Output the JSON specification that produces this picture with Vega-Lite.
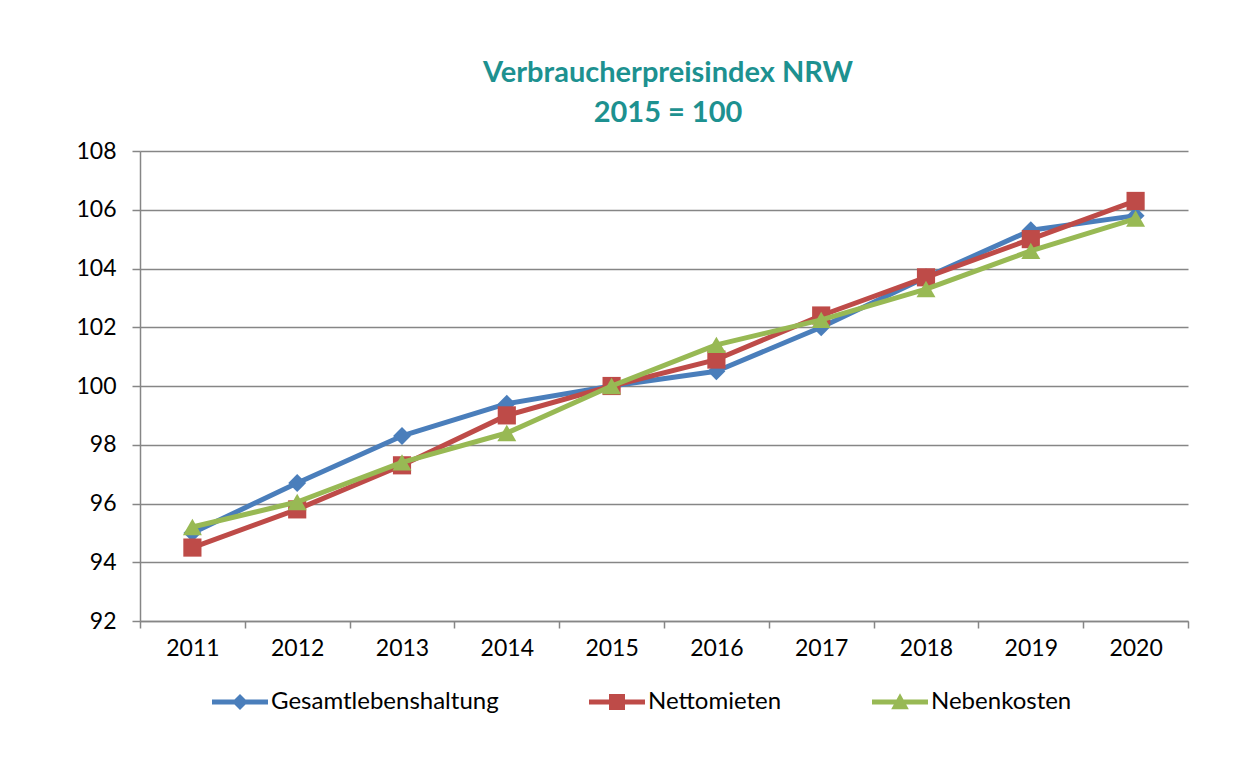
{
  "$schema": "https://vega.github.io/schema/vega-lite/v6.json",
  "width": 1048,
  "height": 470,
  "autosize": {"type": "none"},
  "padding": {"left": 140, "top": 151, "right": 69, "bottom": 150},
  "background": "white",
  "title": {
    "text": ["Verbraucherpreisindex NRW", "2015 = 100"],
    "font": "Lato",
    "fontSize": 29,
    "fontWeight": "bold",
    "color": "#1D9190",
    "anchor": "middle",
    "lineHeight": 40,
    "offset": 12,
    "dx": 4
  },
  "data": {
    "values": [
      {"year": 2011, "series": "Gesamtlebenshaltung", "value": 95.0},
      {"year": 2012, "series": "Gesamtlebenshaltung", "value": 96.7},
      {"year": 2013, "series": "Gesamtlebenshaltung", "value": 98.3},
      {"year": 2014, "series": "Gesamtlebenshaltung", "value": 99.4},
      {"year": 2015, "series": "Gesamtlebenshaltung", "value": 100.0},
      {"year": 2016, "series": "Gesamtlebenshaltung", "value": 100.5},
      {"year": 2017, "series": "Gesamtlebenshaltung", "value": 102.0},
      {"year": 2018, "series": "Gesamtlebenshaltung", "value": 103.7},
      {"year": 2019, "series": "Gesamtlebenshaltung", "value": 105.3},
      {"year": 2020, "series": "Gesamtlebenshaltung", "value": 105.8},
      {"year": 2011, "series": "Nettomieten", "value": 94.5},
      {"year": 2012, "series": "Nettomieten", "value": 95.8},
      {"year": 2013, "series": "Nettomieten", "value": 97.3},
      {"year": 2014, "series": "Nettomieten", "value": 99.0},
      {"year": 2015, "series": "Nettomieten", "value": 100.0},
      {"year": 2016, "series": "Nettomieten", "value": 100.9},
      {"year": 2017, "series": "Nettomieten", "value": 102.4},
      {"year": 2018, "series": "Nettomieten", "value": 103.7},
      {"year": 2019, "series": "Nettomieten", "value": 105.0},
      {"year": 2020, "series": "Nettomieten", "value": 106.3},
      {"year": 2011, "series": "Nebenkosten", "value": 95.2},
      {"year": 2012, "series": "Nebenkosten", "value": 96.05},
      {"year": 2013, "series": "Nebenkosten", "value": 97.4},
      {"year": 2014, "series": "Nebenkosten", "value": 98.4},
      {"year": 2015, "series": "Nebenkosten", "value": 100.0},
      {"year": 2016, "series": "Nebenkosten", "value": 101.4},
      {"year": 2017, "series": "Nebenkosten", "value": 102.25},
      {"year": 2018, "series": "Nebenkosten", "value": 103.3},
      {"year": 2019, "series": "Nebenkosten", "value": 104.6},
      {"year": 2020, "series": "Nebenkosten", "value": 105.7}
    ]
  },
  "encoding": {
    "x": {
      "field": "year",
      "type": "ordinal",
      "scale": {"type": "band", "paddingInner": 0, "paddingOuter": 0},
      "axis": {
        "title": null,
        "tickBand": "extent",
        "labelAngle": 0,
        "grid": false,
        "domainColor": "#868686",
        "domainWidth": 1.5,
        "tickColor": "#868686",
        "tickWidth": 1.5,
        "tickSize": 7,
        "labelFont": "Lato",
        "labelFontSize": 23,
        "labelColor": "#000000",
        "labelPadding": 9
      }
    },
    "y": {
      "field": "value",
      "type": "quantitative",
      "scale": {"domain": [92, 108], "zero": false, "nice": false},
      "axis": {
        "title": null,
        "values": [92, 94, 96, 98, 100, 102, 104, 106, 108],
        "grid": true,
        "gridColor": "#868686",
        "gridWidth": 1.5,
        "domainColor": "#868686",
        "domainWidth": 1.5,
        "tickColor": "#868686",
        "tickWidth": 1.5,
        "tickSize": 8,
        "labelFont": "Lato",
        "labelFontSize": 23,
        "labelColor": "#000000",
        "labelPadding": 16
      }
    },
    "color": {
      "field": "series",
      "type": "nominal",
      "scale": {
        "domain": ["Gesamtlebenshaltung", "Nettomieten", "Nebenkosten"],
        "range": ["#4A7EBB", "#BE4B48", "#98B954"]
      },
      "legend": {
        "orient": "none",
        "direction": "horizontal",
        "legendX": 88,
        "legendY": 539,
        "title": null,
        "labelFont": "Lato",
        "labelFontSize": 24,
        "labelColor": "#000000",
        "labelLimit": 0,
        "labelOffset": 19,
        "columnPadding": 90,
        "symbolSize": 256,
        "symbolStrokeWidth": 0,
        "encode": {
          "symbols": {
            "update": {
              "shape": {"signal": "datum.value === 'Gesamtlebenshaltung' ? 'M-3.5,-0.3H3.5V0.3H-3.5Z M0,-1L1,0L0,1L-1,0Z' : datum.value === 'Nettomieten' ? 'M-3.5,-0.3H3.5V0.3H-3.5Z M-1,-1H1V1H-1Z' : 'M-3.5,-0.3H3.5V0.3H-3.5Z M0,-1.1L1.1,0.9H-1.1Z'"},
              "fill": {"signal": "datum.value === 'Gesamtlebenshaltung' ? '#4A7EBB' : datum.value === 'Nettomieten' ? '#BE4B48' : '#98B954'"},
              "stroke": {"value": "transparent"},
              "strokeWidth": {"value": 0},
              "opacity": {"value": 1}
            }
          }
        }
      }
    }
  },
  "layer": [
    {
      "transform": [{"filter": "datum.series === 'Gesamtlebenshaltung'"}],
      "mark": {"type": "line", "strokeWidth": 5, "strokeJoin": "round", "point": {"shape": "diamond", "size": 320, "filled": true, "opacity": 1}}
    },
    {
      "transform": [{"filter": "datum.series === 'Nettomieten'"}],
      "mark": {"type": "line", "strokeWidth": 5, "strokeJoin": "round", "point": {"shape": "square", "size": 330, "filled": true, "opacity": 1}}
    },
    {
      "transform": [{"filter": "datum.series === 'Nebenkosten'"}],
      "mark": {"type": "line", "strokeWidth": 5, "strokeJoin": "round", "point": {"shape": "triangle-up", "size": 360, "filled": true, "opacity": 1}}
    }
  ],
  "config": {
    "view": {"stroke": null}
  }
}
